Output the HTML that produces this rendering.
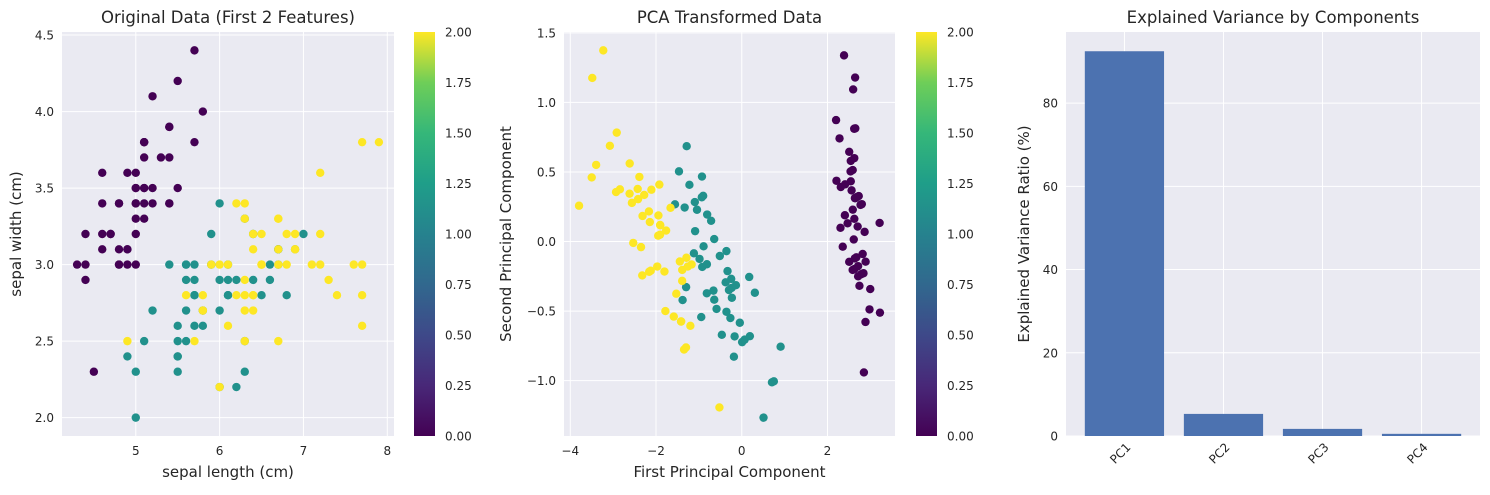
<!DOCTYPE html>
<html><head><meta charset="utf-8"><style>
body{margin:0;background:#fff;}
svg{font-family:"DejaVu Sans","Liberation Sans",sans-serif;}
</style></head><body>
<svg id="fig" width="1490" height="490" xmlns="http://www.w3.org/2000/svg">
<defs><linearGradient id="vir" x1="0" y1="1" x2="0" y2="0">
<stop offset="0" stop-color="#440154"/><stop offset="0.125" stop-color="#482878"/><stop offset="0.25" stop-color="#3e4989"/><stop offset="0.375" stop-color="#31688e"/><stop offset="0.5" stop-color="#26828e"/><stop offset="0.625" stop-color="#1f9e89"/><stop offset="0.75" stop-color="#35b779"/><stop offset="0.875" stop-color="#6ece58"/><stop offset="1" stop-color="#fde725"/></linearGradient></defs>
</svg>
<script>
const species = [0,1,2];
const sepalLength = [5.1,4.9,4.7,4.6,5.0,5.4,4.6,5.0,4.4,4.9,5.4,4.8,4.8,4.3,5.8,5.7,5.4,5.1,5.7,5.1,5.4,5.1,4.6,5.1,4.8,5.0,5.0,5.2,5.2,4.7,4.8,5.4,5.2,5.5,4.9,5.0,5.5,4.9,4.4,5.1,5.0,4.5,4.4,5.0,5.1,4.8,5.1,4.6,5.3,5.0,
7.0,6.4,6.9,5.5,6.5,5.7,6.3,4.9,6.6,5.2,5.0,5.9,6.0,6.1,5.6,6.7,5.6,5.8,6.2,5.6,5.9,6.1,6.3,6.1,6.4,6.6,6.8,6.7,6.0,5.7,5.5,5.5,5.8,6.0,5.4,6.0,6.7,6.3,5.6,5.5,5.5,6.1,5.8,5.0,5.6,5.7,5.7,6.2,5.1,5.7,
6.3,5.8,7.1,6.3,6.5,7.6,4.9,7.3,6.7,7.2,6.5,6.4,6.8,5.7,5.8,6.4,6.5,7.7,7.7,6.0,6.9,5.6,7.7,6.3,6.7,7.2,6.2,6.1,6.4,7.2,7.4,7.9,6.4,6.3,6.1,7.7,6.3,6.4,6.0,6.9,6.7,6.9,5.8,6.8,6.7,6.7,6.3,6.5,6.2,5.9];
const sepalWidth = [3.5,3.0,3.2,3.1,3.6,3.9,3.4,3.4,2.9,3.1,3.7,3.4,3.0,3.0,4.0,4.4,3.9,3.5,3.8,3.8,3.4,3.7,3.6,3.3,3.4,3.0,3.4,3.5,3.4,3.2,3.1,3.4,4.1,4.2,3.1,3.2,3.5,3.6,3.0,3.4,3.5,2.3,3.2,3.5,3.8,3.0,3.8,3.2,3.7,3.3,
3.2,3.2,3.1,2.3,2.8,2.8,3.3,2.4,2.9,2.7,2.0,3.0,2.2,2.9,2.9,3.1,3.0,2.7,2.2,2.5,3.2,2.8,2.5,2.8,2.9,3.0,2.8,3.0,2.9,2.6,2.4,2.4,2.7,2.7,3.0,3.4,3.1,2.3,3.0,2.5,2.6,3.0,2.6,2.3,2.7,3.0,2.9,2.9,2.5,2.8,
3.3,2.7,3.0,2.9,3.0,3.0,2.5,2.9,2.5,3.6,3.2,2.7,3.0,2.5,2.8,3.2,3.0,3.8,2.6,2.2,3.2,2.8,2.8,2.7,3.3,3.2,2.8,3.0,2.8,3.0,2.8,3.8,2.8,2.8,2.6,3.0,3.4,3.1,3.0,3.1,3.1,3.1,2.7,3.2,3.3,3.0,2.5,3.0,3.4,3.0];
const petalLength = [1.4,1.4,1.3,1.5,1.4,1.7,1.4,1.5,1.4,1.5,1.5,1.6,1.4,1.1,1.2,1.5,1.3,1.4,1.7,1.5,1.7,1.5,1.0,1.7,1.9,1.6,1.6,1.5,1.4,1.6,1.6,1.5,1.5,1.4,1.5,1.2,1.3,1.4,1.3,1.5,1.3,1.3,1.3,1.6,1.9,1.4,1.6,1.4,1.5,1.4,
4.7,4.5,4.9,4.0,4.6,4.5,4.7,3.3,4.6,3.9,3.5,4.2,4.0,4.7,3.6,4.4,4.5,4.1,4.5,3.9,4.8,4.0,4.9,4.7,4.3,4.4,4.8,5.0,4.5,3.5,3.8,3.7,3.9,5.1,4.5,4.5,4.7,4.4,4.1,4.0,4.4,4.6,4.0,3.3,4.2,4.2,4.2,4.3,3.0,4.1,
6.0,5.1,5.9,5.6,5.8,6.6,4.5,6.3,5.8,6.1,5.1,5.3,5.5,5.0,5.1,5.3,5.5,6.7,6.9,5.0,5.7,4.9,6.7,4.9,5.7,6.0,4.8,4.9,5.6,5.8,6.1,6.4,5.6,5.1,5.6,6.1,5.6,5.5,4.8,5.4,5.6,5.1,5.1,5.9,5.7,5.2,5.0,5.2,5.4,5.1];
const petalWidth = [0.2,0.2,0.2,0.2,0.2,0.4,0.3,0.2,0.2,0.1,0.2,0.2,0.1,0.1,0.2,0.4,0.4,0.3,0.3,0.3,0.2,0.4,0.2,0.5,0.2,0.2,0.4,0.2,0.2,0.2,0.2,0.4,0.1,0.2,0.2,0.2,0.2,0.1,0.2,0.2,0.3,0.3,0.2,0.6,0.4,0.3,0.2,0.2,0.2,0.2,
1.4,1.5,1.5,1.3,1.5,1.3,1.6,1.0,1.3,1.4,1.0,1.5,1.0,1.4,1.3,1.4,1.5,1.0,1.5,1.1,1.8,1.3,1.5,1.2,1.3,1.4,1.4,1.7,1.5,1.0,1.1,1.0,1.2,1.6,1.5,1.6,1.5,1.3,1.3,1.3,1.2,1.4,1.2,1.0,1.3,1.2,1.3,1.3,1.1,1.3,
2.5,1.9,2.1,1.8,2.2,2.1,1.7,1.8,1.8,2.5,2.0,1.9,2.1,2.0,2.4,2.3,1.8,2.2,2.3,1.5,2.3,2.0,2.0,1.8,2.1,1.8,1.8,1.8,2.1,1.6,1.9,2.0,2.2,1.5,1.4,2.3,2.4,1.8,1.8,2.1,2.4,2.3,1.9,2.3,2.5,2.3,1.9,2.0,2.3,1.8];
const pcLoading1 = [-0.36138659,0.08452251,-0.85667061,-0.3582892];
const pcLoading2 = [0.65658877,0.73016143,-0.17337266,-0.07548102];
const componentLabels = ["PC1","PC2","PC3","PC4"];
const varianceRatio = [92.46,5.31,1.71,0.52];
const x1Ticks = [5,6,7,8];
const y1Ticks = ["2.0","2.5","3.0","3.5","4.0","4.5"];
const x2Ticks = [-4,-2,0,2];
const y2Ticks = ["−1.0","−0.5","0.0","0.5","1.0","1.5"];
const y3Ticks = [0,20,40,60,80];
const cbTicks = ["0.00","0.25","0.50","0.75","1.00","1.25","1.50","1.75","2.00"];

const svg = document.getElementById('fig');
const NS = 'http://www.w3.org/2000/svg';
function mk(tag, attrs, text){const e=document.createElementNS(NS,tag);for(const k in attrs)e.setAttribute(k,attrs[k]);if(text!==undefined)e.textContent=text;svg.appendChild(e);return e;}
function lin(d0,d1,r0,r1){return v=>r0+(v-d0)/(d1-d0)*(r1-r0);}
function vir(c){return ['#440154','#21918c','#fde725'][c];}
function cls(i){return i<50?species[0]:(i<100?species[1]:species[2]);}
const TOP=32,BOT=436,TXT='#262626',TF=12;
function lims(arr){const mn=Math.min(...arr),mx=Math.max(...arr),m=(mx-mn)*0.05;return [mn-m,mx+m];}

function frame(x0,x1,name){const r=mk('rect',{x:x0,y:TOP,width:x1-x0,height:BOT-TOP,fill:'#eaeaf2'});}
function xtick(x,label,name){const l=mk('line',{x1:x,x2:x,y1:TOP,y2:BOT,stroke:'#fff','stroke-width':1});
 const t=mk('text',{x:x,y:BOT+19,'text-anchor':'middle','font-size':TF,fill:TXT},label);}
function ytick(x0,x1,y,label,name){const l=mk('line',{x1:x0,x2:x1,y1:y,y2:y,stroke:'#fff','stroke-width':1});
 const t=mk('text',{x:x0-8,y:y+4.5,'text-anchor':'end','font-size':TF,fill:TXT},label);}
function title(x,text,name){const t=mk('text',{x:x,y:23,'text-anchor':'middle','font-size':16.5,fill:TXT},text);}
function xlabel(x,text,name){const t=mk('text',{x:x,y:477,'text-anchor':'middle','font-size':15,fill:TXT},text);}
function ylabel(x,text,name){const t=mk('text',{x:0,y:0,'text-anchor':'middle','font-size':15,fill:TXT,transform:`translate(${x},${(TOP+BOT)/2}) rotate(-90)`},text);}
function colorbar(x,name){const r=mk('rect',{x:x,y:TOP,width:21,height:BOT-TOP,fill:'url(#vir)'});
 const cy=lin(0,2,BOT,TOP);cbTicks.forEach(t=>{const e=mk('text',{x:x+31,y:cy(parseFloat(t))+4.5,'font-size':TF,fill:TXT},t);});}

// Panel 1
{const X0=62,X1=394;frame(X0,X1,'scatter-original-plot-area');
 const [xa,xb]=lims(sepalLength),[ya,yb]=lims(sepalWidth);
 const sx=lin(xa,xb,X0,X1),sy=lin(ya,yb,BOT,TOP);
 x1Ticks.forEach(v=>xtick(sx(v),String(v),'x-tick-original'));
 y1Ticks.forEach(v=>ytick(X0,X1,sy(parseFloat(v)),v,'y-tick-original'));
 sepalLength.forEach((v,i)=>{const c=mk('circle',{cx:sx(v),cy:sy(sepalWidth[i]),r:4.2,fill:vir(cls(i))});});
 title((X0+X1)/2,'Original Data (First 2 Features)','title-original');
 xlabel((X0+X1)/2,'sepal length (cm)','x-axis-title-original');
 ylabel(21,'sepal width (cm)','y-axis-title-original');
 colorbar(414,'colorbar-original');}

// Panel 2
{const X0=564,X1=895;frame(X0,X1,'scatter-pca-plot-area');
 const m=[0,1,2,3].map(k=>[sepalLength,sepalWidth,petalLength,petalWidth][k].reduce((a,b)=>a+b,0)/150);
 const pc1=sepalLength.map((_,i)=>[sepalLength[i],sepalWidth[i],petalLength[i],petalWidth[i]].reduce((s,v,k)=>s+(v-m[k])*pcLoading1[k],0));
 const pc2=sepalLength.map((_,i)=>[sepalLength[i],sepalWidth[i],petalLength[i],petalWidth[i]].reduce((s,v,k)=>s+(v-m[k])*pcLoading2[k],0));
 const [xa,xb]=lims(pc1),[ya,yb]=lims(pc2);
 const sx=lin(xa,xb,X0,X1),sy=lin(ya,yb,BOT,TOP);
 x2Ticks.forEach(v=>xtick(sx(v),String(v).replace('-','−'),'x-tick-pca'));
 y2Ticks.forEach(v=>ytick(X0,X1,sy(parseFloat(v.replace('−','-'))),v,'y-tick-pca'));
 pc1.forEach((v,i)=>{const c=mk('circle',{cx:sx(v),cy:sy(pc2[i]),r:4.2,fill:vir(cls(i))});});
 title((X0+X1)/2,'PCA Transformed Data','title-pca');
 xlabel((X0+X1)/2,'First Principal Component','x-axis-title-pca');
 ylabel(511,'Second Principal Component','y-axis-title-pca');
 colorbar(916,'colorbar-pca');}

// Panel 3
{const X0=1066,X1=1480;frame(X0,X1,'bar-plot-area');
 const n=varianceRatio.length;const sx=lin(-0.59,n-1+0.59,X0,X1);
 const sy=lin(0,Math.max(...varianceRatio)*1.05,BOT,TOP);
 componentLabels.forEach((c,i)=>{const x=sx(i);const l=mk('line',{x1:x,x2:x,y1:TOP,y2:BOT,stroke:'#fff'});
  const t=mk('text',{x:0,y:0,'text-anchor':'end','font-size':TF,fill:TXT,transform:`translate(${x+7},${BOT+12}) rotate(-45)`},c);});
 y3Ticks.forEach(v=>ytick(X0,X1,sy(v),String(v),'y-tick-bar'));
 varianceRatio.forEach((v,i)=>{const w=sx(0.4)-sx(-0.4);const b=mk('rect',{x:sx(i)-w/2,y:sy(v),width:w,height:BOT-sy(v),fill:'#4c72b0'});});
 title((X0+X1)/2,'Explained Variance by Components','title-variance');
 ylabel(1029,'Explained Variance Ratio (%)','y-axis-title-variance');}
</script>
</body></html>
